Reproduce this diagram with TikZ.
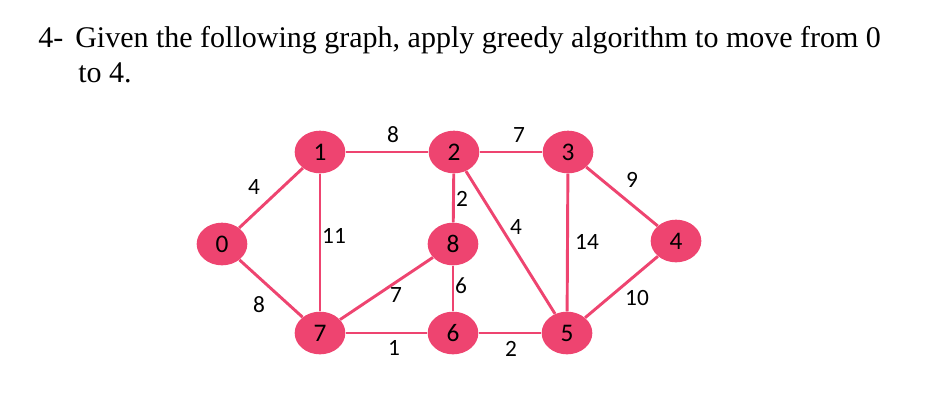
\documentclass[tikz,border=0pt]{standalone}
\usepackage{fontspec}
\usetikzlibrary{shapes.geometric}
\setmainfont{Liberation Serif}
\newfontfamily\calib{Carlito}
\definecolor{pk}{HTML}{EE4470}
\begin{document}
\begin{tikzpicture}[x=0.75pt,y=-0.75pt,
  vx/.style={ellipse,fill=pk,minimum width=38pt,minimum height=32pt,inner sep=0pt,font=\calib\fontsize{19}{19}\selectfont},
  ed/.style={draw=pk,line width=2.2pt},
  wt/.style={font=\calib\fontsize{17.5}{17.5}\selectfont,inner sep=0pt}]
\useasboundingbox (0,0) rectangle (932,405);
\node[anchor=base west,inner sep=0pt,font=\fontsize{22.5}{22.5}\selectfont] (t1) at (38,47) {4-\hspace{9pt}Given the following graph, apply greedy algorithm to move from 0};
\node[anchor=base west,inner sep=0pt,font=\fontsize{22.5}{22.5}\selectfont] (t2) at (78,82) {to 4.};
\node[vx] (n0) at (222,244) {0};
\node[vx] (n1) at (320,152) {1};
\node[vx] (n2) at (454,152) {2};
\node[vx] (n3) at (568,152) {3};
\node[vx] (n4) at (676,241) {4};
\node[vx] (n8) at (453,244) {8};
\node[vx] (n7) at (320,333) {7};
\node[vx] (n6) at (453,333) {6};
\node[vx] (n5) at (567,333) {5};
\draw[ed] (n0)--(n1); \draw[ed] (n0)--(n7);
\draw[ed] (n1)--(n2); \draw[ed] (n1)--(n7);
\draw[ed] (n2)--(n3); \draw[ed] (n2)--(n8); \draw[ed] (n2)--(n5);
\draw[ed] (n3)--(n4); \draw[ed] (n3)--(n5);
\draw[ed] (n8)--(n7); \draw[ed] (n8)--(n6);
\draw[ed] (n7)--(n6); \draw[ed] (n6)--(n5); \draw[ed] (n5)--(n4);
\node[wt] (w1) at (254,187) {4};
\node[wt] (w2) at (259,305) {8};
\node[wt] (w3) at (334,236) {11};
\node[wt] (w4) at (393,135) {8};
\node[wt] (w5) at (519,135) {7};
\node[wt] (w6) at (462,199) {2};
\node[wt] (w7) at (516,227) {4};
\node[wt] (w8) at (587,242) {14};
\node[wt] (w9) at (632,180) {9};
\node[wt] (w10) at (637,298) {10};
\node[wt] (w11) at (396,295) {7};
\node[wt] (w12) at (461,286) {6};
\node[wt] (w13) at (394,348) {1};
\node[wt] (w14) at (511,349) {2};
\end{tikzpicture}
\end{document}
